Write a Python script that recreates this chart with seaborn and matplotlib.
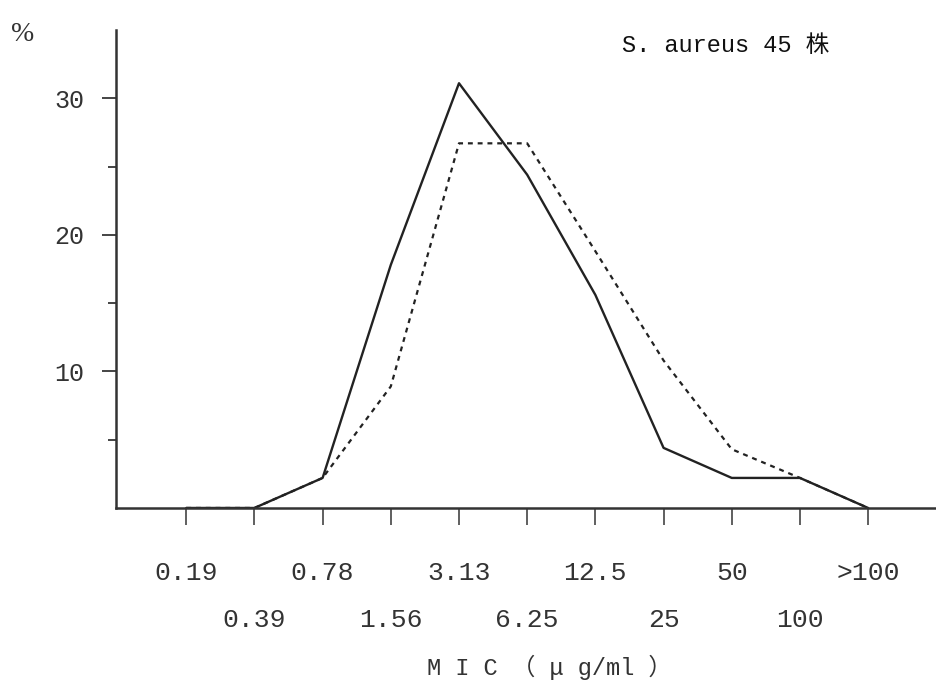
import numpy as np
import pandas as pd
import seaborn as sns
import matplotlib.pyplot as plt
from matplotlib.ticker import FixedLocator

# MIC categories (ug/ml) and % of strains
mic_labels = ["0.19", "0.39", "0.78", "1.56", "3.13", "6.25",
              "12.5", "25", "50", "100", ">100"]
solid_pct = [0, 0, 2.2, 17.8, 31.1, 24.4, 15.6, 4.4, 2.2, 2.2, 0]
dashed_pct = [0, 0, 2.2, 8.9, 26.7, 26.7, 18.8, 10.8, 4.3, 2.2, 0]
y_labels = [10, 20, 30]
y_minor = [5, 15, 25]

sns.set_style("white")
plt.rcParams['font.family'] = ['Liberation Mono', 'Noto Sans CJK JP']

pos = np.arange(len(mic_labels))
df = pd.DataFrame({"pos": pos, "solid": solid_pct, "dashed": dashed_pct})

fig = plt.figure(figsize=(9.37, 6.97), dpi=100)
ax = fig.add_axes([0.1238, 0.2712, 0.8762, 0.6858])

ink = "#222222"
sns.lineplot(data=df, x="pos", y="dashed", ax=ax, color=ink, lw=1.6,
             linestyle=(0, (2.2, 2.2)))
sns.lineplot(data=df, x="pos", y="solid", ax=ax, color=ink, lw=1.7)

ax.set_xlim(-1.03, 11.01)
ax.set_ylim(0, 35)
ax.set_xlabel("")
ax.set_ylabel("")

for s in ["top", "right"]:
    ax.spines[s].set_visible(False)
for s in ["left", "bottom"]:
    ax.spines[s].set_color("#333333")
    ax.spines[s].set_linewidth(1.8)
    ax.spines[s].set_zorder(5)

# x ticks: marks only, labels drawn in two staggered rows
ax.set_xticks(pos)
ax.set_xticklabels([])
ax.tick_params(axis="x", direction="out", length=12, width=1.2,
               color="#444444", bottom=True)
for i, lab in enumerate(mic_labels):
    yy = -0.135 if i % 2 == 0 else -0.235
    ax.text(i, yy, lab, transform=ax.get_xaxis_transform(),
            ha="center", va="center", fontsize=19, color="#333333")

# y ticks
ax.set_yticks(y_labels)
ax.set_yticklabels([str(v) for v in y_labels], fontsize=18, color="#333333")
ax.yaxis.set_minor_locator(FixedLocator(y_minor))
ax.tick_params(axis="y", which="major", direction="out", length=10,
               width=1.4, pad=13, color="#444444", left=True)
ax.tick_params(axis="y", which="minor", direction="out", length=6,
               width=1.4, color="#444444", left=True)

fig.text(0.024, 0.950, "%", fontsize=20, color="#333333",
         ha="center", va="center", family=['Liberation Serif'])
fig.text(0.774, 0.935, "S. aureus 45 株", fontsize=17, color="#111111",
         ha="center", va="center")
fig.text(0.586, 0.042, "M I C （ μ g/ml ）", fontsize=17, color="#333333",
         ha="center", va="center")

fig.savefig("out.png", dpi=100, facecolor="white")
